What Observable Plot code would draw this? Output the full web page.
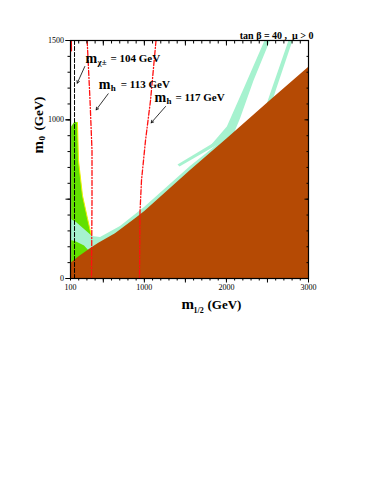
<!DOCTYPE html>
<html><head><meta charset="utf-8">
<script src="https://cdn.jsdelivr.net/npm/d3@7"></script>
<script src="https://cdn.jsdelivr.net/npm/@observablehq/plot@0.6"></script>
<style>body{margin:0;background:#fff}svg{display:block}</style>
</head><body><div id="chart"></div>
<script>
// ---- data (m1/2, m0 in GeV) ----
const brownM12 = [100,200,356,445,648,892,1005,1562,2009,2537,3000];
const brownM0  = [93,135,193,222,282,376,422,681,880,1122,1330];

const greenM12 = [108,149,185,197,246,307,368,380,108];
const greenM0  = [958,990,983,744,523,378,239,176,82];

const aquaM12    = [108,173,271,368,466,709,1002,1562,1867,2013];
const aquaTop    = [372,353,309,265,258,328,448,706,832,895];
const aquaBottom = [240,230,205,150,0,0,0,0,0,0];

const funnelAM12 = [2464,2215,2005,1806,2074,2165,2330,2530];
const funnelAM0  = [1500,1204,958,838,895,1008,1248,1500];
const funnelBM12 = [2756,2537,2488,2561,2600,2805];
const funnelBM0  = [1500,1172,1097,1122,1185,1500];
const funnelCM12 = [1404,1952,1977,1428];
const funnelCM0  = [719,889,870,706];

const mh113M12 = [303,338,362,362,356];
const mh113M0  = [1500,1122,807,492,0];
const mh117M12 = [1142,1075,1014,965,947,941];
const mh117M0  = [1500,1122,870,618,422,0];
const edgeM12  = [110,112];
const edgeM0   = [1500,1435];
const charginoM12 = [149,149];
const charginoM0  = [0,1500];

const arrowX1 = [274,559,1258];
const arrowY1 = [1336,1164,1084];
const arrowX2 = [182,413,1083];
const arrowY2 = [1231,1063,981];

const labelM12  = [283,445,1124];
const labelM0   = [1387,1223,1141];
const labelSub  = ["χ±","h","h"];
const labelRest = ["= 104 GeV","= 113 GeV","= 117 GeV"];

const xLabeled = [100,1000,2000,3000];
const yLabeled = [0,1000,1500];
const xMajor = [500,1000,1500,2000,2500,3000];
const yMajor = [0,500,1000,1500];
const xMinor = d3.range(100,3001,100);
const yMinor = d3.range(0,1501,100);

const title = "tan β = 40 ,  μ > 0";

// ---- helpers ----
const pts = (xs, ys) => xs.map((x,i) => ({x, y: ys[i]}));
const BROWN = "#b54a04", GREEN = "#62e000", AQUA = "#a6f2cf", RED = "#ff1010";
const serif = '"Liberation Serif", "Times New Roman", serif';

const restDx = [25, 22, 21];
const labelMarks = labelM12.flatMap((x, i) => [
  Plot.text([{x, y: labelM0[i], t: "m"}], {x:"x", y:"y", text:"t", textAnchor:"start", fontSize:14, fontWeight:"bold", fontFamily:serif}),
  Plot.text([{x, y: labelM0[i], t: labelSub[i]}], {x:"x", y:"y", text:"t", textAnchor:"start", dx:12, dy:4, fontSize:9, fontWeight:"bold", fontFamily:serif}),
  Plot.text([{x, y: labelM0[i], t: labelRest[i]}], {x:"x", y:"y", text:"t", textAnchor:"start", dx:restDx[i], fontSize:11, fontWeight:"bold", fontFamily:serif})
]);

const axes = [
  Plot.axisX({anchor:"bottom", ticks:xMinor, tickSize:2.5, tickFormat:() => "", label:null}),
  Plot.axisX({anchor:"bottom", ticks:xMajor, tickSize:4.5, tickFormat:() => "", label:null}),
  Plot.axisX({anchor:"bottom", ticks:xLabeled, tickSize:0, tickPadding:6, tickFormat:d => String(d), fontSize:8, fontFamily:serif, label:null}),
  Plot.axisX({anchor:"top", ticks:xMinor, tickSize:-2.5, tickFormat:() => "", label:null}),
  Plot.axisX({anchor:"top", ticks:xMajor, tickSize:-4.5, tickFormat:() => "", label:null}),
  Plot.axisY({anchor:"left", ticks:yMinor, tickSize:2.5, tickFormat:() => "", label:null}),
  Plot.axisY({anchor:"left", ticks:yMajor, tickSize:4.5, tickFormat:() => "", label:null}),
  Plot.axisY({anchor:"left", ticks:yLabeled, tickSize:4.5, tickPadding:2, tickFormat:d => String(d), fontSize:8, fontFamily:serif, label:null}),
  Plot.axisY({anchor:"right", ticks:yMinor, tickSize:-2.5, tickFormat:() => "", label:null}),
  Plot.axisY({anchor:"right", ticks:yMajor, tickSize:-4.5, tickFormat:() => "", label:null})
];

const chart = Plot.plot({
  width: 374, height: 485,
  marginLeft: 70, marginRight: 66, marginTop: 40, marginBottom: 207,
  style: {fontFamily: serif, fontSize: "8px", background: "#fff", color: "#000"},
  x: {domain: [100, 3000], axis: null},
  y: {domain: [0, 1500], axis: null},
  marks: [
    Plot.line(pts(greenM12, greenM0), {x:"x", y:"y", fill: GREEN, stroke: "none", clip: true}),
    Plot.line(pts(greenM12.slice(2,7), greenM0.slice(2,7)), {x:"x", y:"y", stroke: "#eef000", strokeWidth: 1, clip: true}),
    Plot.areaY(aquaM12.map((x,i) => ({x, y1: aquaBottom[i], y2: aquaTop[i]})), {x:"x", y1:"y1", y2:"y2", fill: AQUA, clip: true}),
    Plot.line(pts(funnelAM12, funnelAM0), {x:"x", y:"y", fill: AQUA, stroke: "none", clip: true}),
    Plot.line(pts(funnelBM12, funnelBM0), {x:"x", y:"y", fill: AQUA, stroke: "none", clip: true}),
    Plot.line(pts(funnelCM12, funnelCM0), {x:"x", y:"y", fill: AQUA, stroke: "none", clip: true}),
    Plot.areaY(pts(brownM12, brownM0), {x:"x", y:"y", fill: BROWN, clip: true}),
    Plot.line(pts(mh113M12, mh113M0), {x:"x", y:"y", stroke: RED, strokeWidth: 1.3, strokeDasharray: "5,2,1,2", clip: true}),
    Plot.line(pts(mh117M12, mh117M0), {x:"x", y:"y", stroke: RED, strokeWidth: 1.3, strokeDasharray: "5,2,1,2", clip: true}),
    Plot.line(pts(edgeM12, edgeM0), {x:"x", y:"y", stroke: RED, strokeWidth: 1.3, clip: true}),
    Plot.line(pts(charginoM12, charginoM0), {x:"x", y:"y", stroke: "#000", strokeWidth: 1, strokeDasharray: "4,2", clip: true}),
    Plot.arrow(arrowX1.map((x,i) => ({x1:x, y1:arrowY1[i], x2:arrowX2[i], y2:arrowY2[i]})), {x1:"x1", y1:"y1", x2:"x2", y2:"y2", stroke:"#000", strokeWidth:0.8, headLength:5}),
    ...labelMarks,
    Plot.text([title], {frameAnchor:"top-right", text: d => d, textAnchor:"end", dx:5, dy:-9, fontSize:10, fontWeight:"bold", fontFamily:serif}),
    // x axis title
    Plot.text(["m"], {frameAnchor:"bottom", text: d => d, textAnchor:"start", dx:-8, dy:30, fontSize:15, fontWeight:"bold", fontFamily:serif}),
    Plot.text(["1/2"], {frameAnchor:"bottom", text: d => d, textAnchor:"start", dx:4, dy:34, fontSize:8, fontWeight:"bold", fontFamily:serif}),
    Plot.text(["(GeV)"], {frameAnchor:"bottom", text: d => d, textAnchor:"start", dx:18, dy:30, fontSize:13, fontWeight:"bold", fontFamily:serif}),
    // y axis title
    Plot.text(["m"], {frameAnchor:"left", text: d => d, rotate:-90, textAnchor:"start", dx:-32, dy:-6, fontSize:15, fontWeight:"bold", fontFamily:serif}),
    Plot.text(["0"], {frameAnchor:"left", text: d => d, rotate:-90, textAnchor:"start", dx:-28, dy:-19, fontSize:9, fontWeight:"bold", fontFamily:serif}),
    Plot.text(["(GeV)"], {frameAnchor:"left", text: d => d, rotate:-90, textAnchor:"start", dx:-32, dy:-29, fontSize:13, fontWeight:"bold", fontFamily:serif}),
    Plot.frame({stroke: "#000", strokeWidth: 1.2}),
    ...axes
  ]
});
document.getElementById("chart").appendChild(chart);
</script>
</body></html>
